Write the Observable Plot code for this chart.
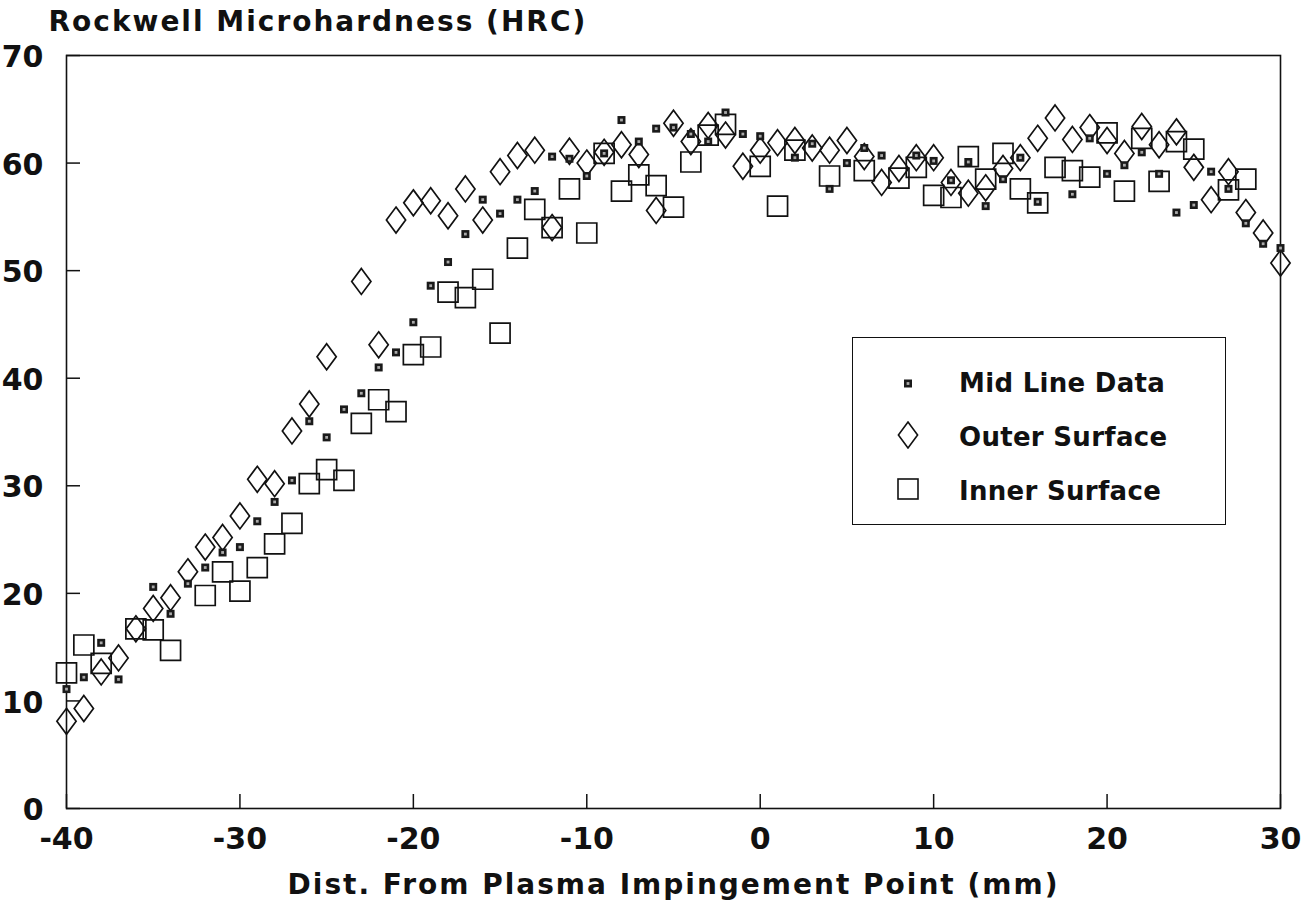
<!DOCTYPE html>
<html>
<head>
<meta charset="utf-8">
<script src="https://cdn.jsdelivr.net/npm/d3@7"></script>
<script src="https://cdn.jsdelivr.net/npm/@observablehq/plot@0.6"></script>
<style>
  html, body { margin: 0; padding: 0; background: #fff; }
  #wrap { position: relative; width: 1313px; height: 918px; font-family: "DejaVu Sans", sans-serif; }
  #legend { position: absolute; left: 852px; top: 337px; width: 372px; height: 186px; border: 1.5px solid #111; background: #fff; }
  #legend .row { position: absolute; left: 0; height: 40px; width: 100%; }
  #legend .sym { position: absolute; left: 55px; top: 20px; transform: translate(-50%, -50%); }
  #legend .lab { position: absolute; left: 106px; top: 20px; transform: translateY(-50%); font-size: 26px; font-weight: bold; color: #111; white-space: nowrap; letter-spacing: 0.3px; }
</style>
</head>
<body>
<div id="wrap"></div>
<script>
// ---- data ----
const xTicks = [-40, -30, -20, -10, 0, 10, 20, 30];
const yTicks = [0, 10, 20, 30, 40, 50, 60, 70];

const midX = [-40,-39,-38,-37,-35,-34,-33,-32,-31,-30,-29,-28,-27,-26,-25,-24,-23,-22,-21,-20,-19,-18,-17,-16,-15,-14,-13,-12,-11,-10,-9,-8,-7,-6,-5,-4,-3,-2,-1,0,2,3,4,5,6,7,9,10,11,12,13,14,15,16,18,19,20,21,22,23,24,25,26,27,28,29,30];
const midY = [11.1,12.2,15.4,12.0,20.6,18.1,20.9,22.4,23.8,24.3,26.7,28.5,30.5,36.0,34.5,37.1,38.6,41.0,42.4,45.2,48.6,50.8,53.4,56.6,55.3,56.6,57.4,60.6,60.4,58.8,60.9,64.0,62.0,63.2,63.3,62.7,62.0,64.7,62.7,62.5,60.5,61.8,57.6,60.0,61.4,60.7,60.7,60.2,58.4,60.1,56.0,58.5,60.5,56.4,57.1,62.3,59.0,59.8,61.0,59.0,55.4,56.1,59.2,57.6,54.4,52.5,52.1];

const outerX = [-40,-39,-38,-37,-36,-35,-34,-33,-32,-31,-30,-29,-28,-27,-26,-25,-23,-22,-21,-20,-19,-18,-17,-16,-15,-14,-13,-12,-11,-10,-9,-8,-7,-6,-5,-4,-3,-2,-1,0,1,2,3,4,5,6,7,8,9,10,11,12,13,14,15,16,17,18,19,20,21,22,23,24,25,26,27,28,29,30];
const outerY = [8.1,9.3,12.7,14.0,16.7,18.6,19.6,22.0,24.3,25.2,27.2,30.6,30.2,35.1,37.6,42.0,49.0,43.1,54.7,56.3,56.5,55.1,57.6,54.7,59.2,60.7,61.2,54.0,61.1,60.0,61.0,61.7,60.8,55.6,63.7,62.0,63.5,62.6,59.7,61.2,61.9,62.1,61.4,61.2,62.1,60.6,58.2,59.5,60.5,60.5,58.2,57.2,57.7,59.5,60.5,62.3,64.2,62.2,63.3,62.1,60.9,63.4,61.7,62.9,59.6,56.6,59.2,55.4,53.5,50.7];

const innerX = [-40,-39,-38,-36,-35,-34,-32,-31,-30,-29,-28,-27,-26,-25,-24,-23,-22,-21,-20,-19,-18,-17,-16,-15,-14,-13,-12,-11,-10,-9,-8,-7,-6,-5,-4,-3,-2,0,1,2,4,6,8,9,10,11,12,13,14,15,16,17,18,19,20,21,22,23,24,25,27,28];
const innerY = [12.6,15.2,13.5,16.7,16.6,14.7,19.8,22.0,20.2,22.4,24.6,26.5,30.2,31.5,30.5,35.8,38.0,36.9,42.2,42.9,48.0,47.5,49.2,44.2,52.1,55.7,54.0,57.6,53.5,60.9,57.4,58.9,57.9,55.9,60.1,62.6,63.6,59.7,56.0,61.2,58.8,59.3,58.6,59.6,57.0,56.8,60.6,58.5,60.9,57.6,56.3,59.6,59.3,58.7,62.8,57.4,62.3,58.3,62.0,61.3,57.5,58.5];

const seriesNames = ["Mid Line Data", "Outer Surface", "Inner Surface"];
const titleText = "Rockwell Microhardness (HRC)";
const xLabelText = "Dist. From Plasma Impingement Point (mm)";

// ---- tables built from the arrays ----
const mid = midX.map((x, i) => ({x, y: midY[i]}));
const outer = outerX.map((x, i) => ({x, y: outerY[i]}));
const inner = innerX.map((x, i) => ({x, y: innerY[i]}));

// ---- custom symbols ----
const tallDiamond = {
  draw(ctx, size) {
    const r = Math.sqrt(size / Math.PI), w = r * 0.74;
    ctx.moveTo(0, -r); ctx.lineTo(w, 0); ctx.lineTo(0, r); ctx.lineTo(-w, 0); ctx.closePath();
  }
};
const squareSym = {
  draw(ctx, size) {
    const r = Math.sqrt(size / Math.PI);
    ctx.rect(-r, -r, 2 * r, 2 * r);
  }
};

const FONT = "DejaVu Sans";
const W = 1313, H = 918;
const mL = 66, mR = 33, mT = 55, mB = 110;
const frameW = W - mL - mR, frameH = H - mT - mB;
const tickLen = 14;

const chart = Plot.plot({
  width: W,
  height: H,
  marginLeft: mL, marginRight: mR, marginTop: mT, marginBottom: mB,
  style: {fontFamily: FONT, background: "#fff", color: "#111"},
  x: {domain: [-40, 30], ticks: xTicks},
  y: {domain: [0, 70], ticks: yTicks},
  marks: [
    Plot.axisX({ticks: xTicks, tickSize: 0, tickPadding: 19, fontSize: 30, fontWeight: "bold", label: null, tickFormat: d => (d < 0 ? "-" + Math.abs(d) : String(d))}),
    Plot.axisY({ticks: yTicks, tickSize: 0, tickPadding: 23, fontSize: 30, fontWeight: "bold", label: null, dy: 2}),
    Plot.tickY(yTicks, {y: d => d, insetRight: frameW - tickLen, stroke: "#111", strokeWidth: 1.5}),
    Plot.tickX(xTicks, {x: d => d, insetTop: frameH - tickLen, stroke: "#111", strokeWidth: 1.5}),
    Plot.frame({stroke: "#111", strokeWidth: 1.6}),
    Plot.dot(inner, {x: "x", y: "y", symbol: squareSym, r: 10, stroke: "#111", strokeWidth: 1.7, fill: "none"}),
    Plot.dot(outer, {x: "x", y: "y", symbol: tallDiamond, r: 13, stroke: "#111", strokeWidth: 1.7, fill: "none"}),
    Plot.dot(mid, {x: "x", y: "y", symbol: squareSym, r: 4, fill: "#1a1a1a", stroke: "none"}),
    Plot.dot(mid, {x: "x", y: "y", symbol: squareSym, r: 1.4, fill: "#aaa", stroke: "none"}),
    Plot.text([titleText], {text: d => d, frameAnchor: "top-left", lineAnchor: "middle", textAnchor: "start", dx: -18, dy: -33, fontSize: 28, fontWeight: "bold", fill: "#111"}),
    Plot.text([xLabelText], {text: d => d, frameAnchor: "bottom", lineAnchor: "middle", dy: 77, fontSize: 28, fontWeight: "bold", fill: "#111"})
  ]
});

d3.select(chart).selectAll("text")
  .filter(function() { const t = this.textContent; return t === titleText || t === xLabelText; })
  .attr("letter-spacing", "2px");

const wrap = document.getElementById("wrap");
wrap.appendChild(chart);

// ---- legend (inside the plot area, as in the reference) ----
const legend = document.createElement("div");
legend.id = "legend";
const symSvg = [
  `<svg width="10" height="10"><rect x="1" y="1" width="8" height="8" fill="#1a1a1a"/><rect x="3.6" y="3.6" width="2.8" height="2.8" fill="#aaa"/></svg>`,
  `<svg width="22" height="28"><path d="M11,1 L20.6,14 L11,27 L1.4,14 Z" fill="none" stroke="#111" stroke-width="1.6"/></svg>`,
  `<svg width="22" height="22"><rect x="1" y="1" width="20" height="20" fill="none" stroke="#111" stroke-width="1.6"/></svg>`
];
const rowTops = [25, 79, 133];
seriesNames.forEach((name, i) => {
  const row = document.createElement("div");
  row.className = "row";
  row.style.top = rowTops[i] + "px";
  row.innerHTML = `<div class="sym">${symSvg[i]}</div><div class="lab">${name}</div>`;
  legend.appendChild(row);
});
wrap.appendChild(legend);
</script>
</body>
</html>
